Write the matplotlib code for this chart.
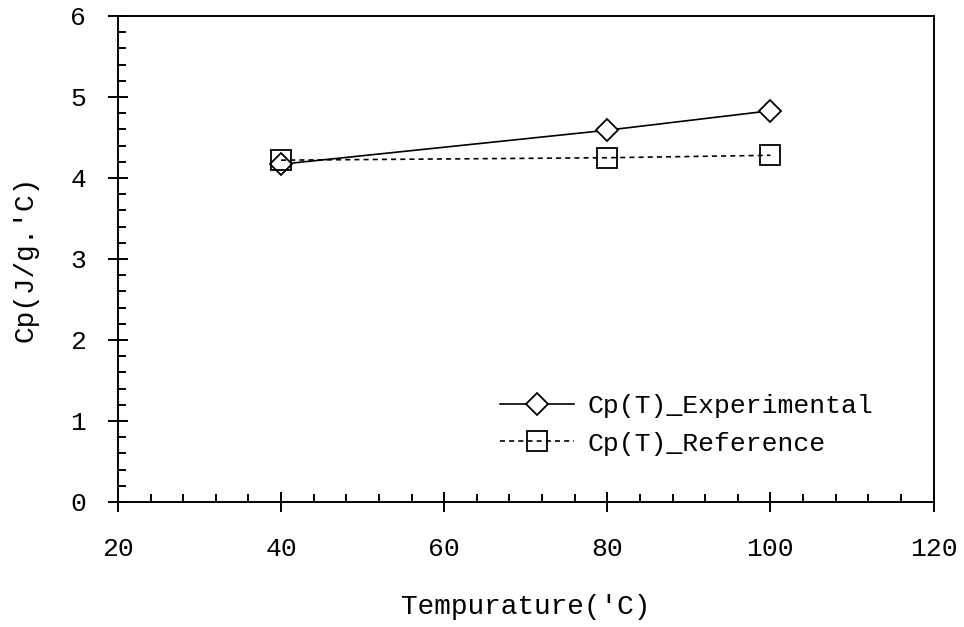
import matplotlib.pyplot as plt
from matplotlib.ticker import MultipleLocator

temps = [40, 80, 100]
cp_experimental = [4.17, 4.59, 4.83]
cp_reference = [4.22, 4.25, 4.28]

plt.rcParams["font.family"] = ["Liberation Mono", "DejaVu Sans Mono"]

fig = plt.figure(figsize=(9.64, 6.27), dpi=100)
ax = fig.add_axes([0.1224, 0.1994, 0.846, 0.7751])

ax.plot(temps, cp_experimental, color="black", lw=1.2, marker="D",
        markersize=11, markerfacecolor="white", markeredgecolor="black",
        markeredgewidth=1.3, label="Cp(T)_Experimental")
ax.plot(temps, cp_reference, color="black", lw=1.2, linestyle=(0, (3, 2.5)),
        marker="s", markersize=14, markerfacecolor="none", markeredgecolor="black",
        markeredgewidth=1.3, label="Cp(T)_Reference")

ax.set_xlim(20, 120)
ax.set_ylim(0, 6)
ax.xaxis.set_major_locator(MultipleLocator(20))
ax.xaxis.set_minor_locator(MultipleLocator(4))
ax.yaxis.set_major_locator(MultipleLocator(1))
ax.yaxis.set_minor_locator(MultipleLocator(0.2))
ax.tick_params(which="major", direction="inout", length=14, width=1.4,
               labelsize=19)
ax.tick_params(which="minor", direction="in", length=6, width=1.4)
ax.tick_params(axis="x", pad=18)
ax.tick_params(axis="y", pad=16)
for s in ax.spines.values():
    s.set_linewidth(1.4)

ax.set_xlabel("Tempurature('C)", fontsize=20, labelpad=24)
ax.set_ylabel("Cp(J/g.'C)", fontsize=20, labelpad=23)

ax.legend(loc="upper left", bbox_to_anchor=(500 / 964, 1 - 394 / 627),
          bbox_transform=fig.transFigure, frameon=False, borderpad=0,
          borderaxespad=0, fontsize=19, handlelength=2.8, handletextpad=0.5,
          labelspacing=0.52)

fig.savefig("out.png", dpi=100)
